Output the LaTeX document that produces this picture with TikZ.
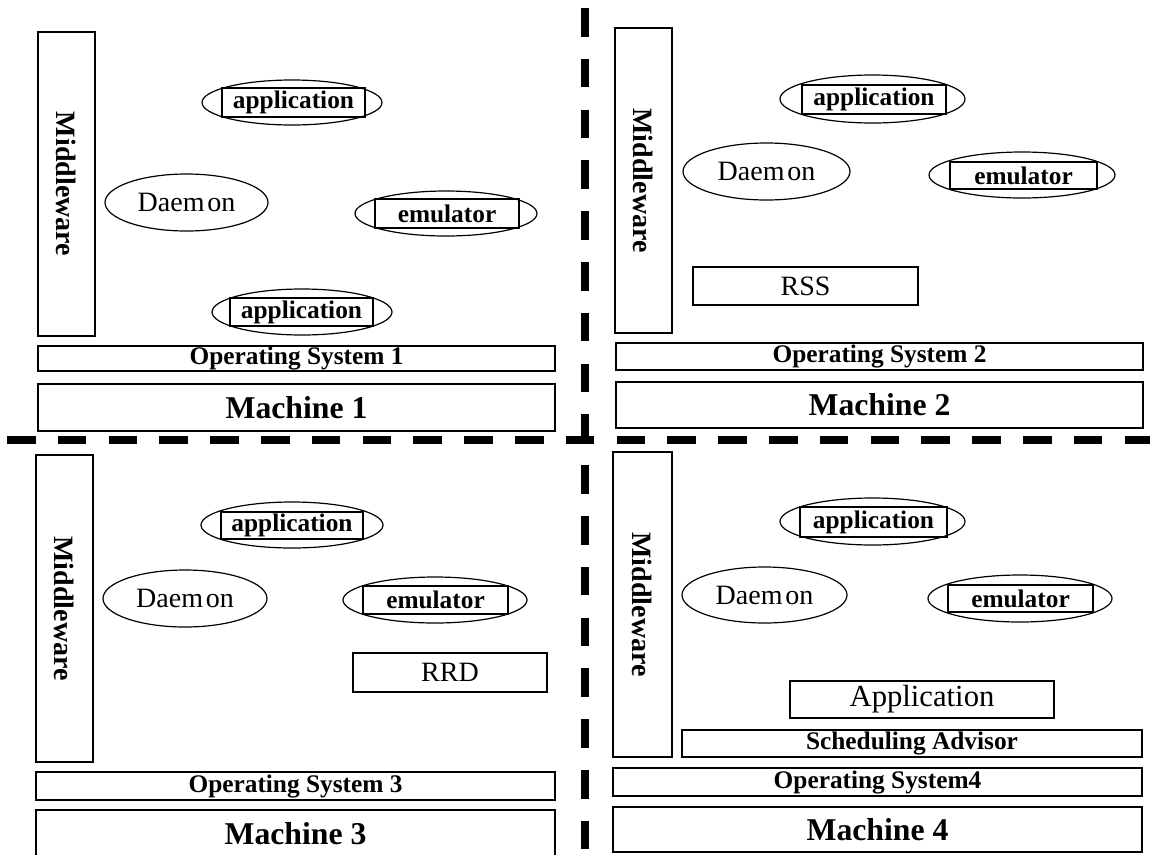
\documentclass[tikz,border=0pt]{standalone}
\usepackage{fontspec}
\setmainfont{Liberation Serif}
\usetikzlibrary{shapes.geometric}
\begin{document}
\begin{tikzpicture}[x=0.75pt,y=-0.75pt,
  frame/.style={draw,line width=0.9pt,inner sep=0pt,rectangle},
  oval/.style={draw,line width=0.9pt,inner sep=0pt,ellipse},
  sz/.style 2 args={minimum width=#1*0.75pt,minimum height=#2*0.75pt},
  machfont/.style={font=\bfseries\fontsize{23.8}{24}\selectfont},
  labfont/.style={font=\bfseries\fontsize{19}{19}\selectfont},
  regfont/.style={font=\fontsize{21}{21}\selectfont},
  bigreg/.style={font=\fontsize{23}{23}\selectfont},
  mwfont/.style={font=\bfseries\fontsize{21}{21}\selectfont,rotate=-90},
  divider/.style={line width=6pt,dash pattern=on 21.5pt off 16.6pt},
]
\useasboundingbox (0,0) rectangle (1150,854);
\fill[white] (0,0) rectangle (1150,854);

% dividers
\coordinate (hl) at (7,440);
\coordinate (hr) at (1150,440);
\coordinate (vt) at (585,8);
\coordinate (vb) at (585,854);
\draw[divider] (hl) -- (hr);
\draw[divider] (vt) -- (vb);

% ---------------- Machine 1 ----------------
\node[frame,sz={57}{304}] (mw1) at (66.5,184) {};
\node[mwfont] at (mw1.center) {Middleware};
\node[oval,sz={180}{45}] (a1) at (292,102.5) {};
\node[frame,labfont,sz={143}{29}] (a1r) at (293.5,102.5) {application};
\node[oval,regfont,sz={163}{57}] (d1) at (186.5,202.5) {Daem\kern2pt on};
\node[oval,sz={182}{45}] (e1) at (446,213.5) {};
\node[frame,labfont,sz={144}{29}] (e1r) at (447,213.5) {emulator};
\node[oval,sz={180}{46}] (a2) at (302,312) {};
\node[frame,labfont,sz={143}{28}] (a2r) at (301.5,312) {application};
\node[frame,labfont,sz={517}{25}] (os1) at (296.5,358.5) {Operating System 1};
\node[frame,machfont,sz={517}{47}] (m1) at (296.5,407.5) {Machine 1};

% ---------------- Machine 2 ----------------
\node[frame,sz={57}{305}] (mw2) at (643.5,180.5) {};
\node[mwfont] at (mw2.center) {Middleware};
\node[oval,sz={185}{48}] (a3) at (872.5,99) {};
\node[frame,labfont,sz={144}{29}] (a3r) at (874,99.5) {application};
\node[oval,regfont,sz={167}{57}] (d2) at (766.5,171.5) {Daem\kern2pt on};
\node[oval,sz={186}{46}] (e2) at (1022,175) {};
\node[frame,labfont,sz={147}{27}] (e2r) at (1023.5,175.5) {emulator};
\node[frame,regfont,sz={225}{38}] (rss) at (805.5,286) {RSS};
\node[frame,labfont,sz={527}{27}] (os2) at (879.5,356.5) {Operating System 2};
\node[frame,machfont,sz={527}{46}] (m2) at (879.5,405) {Machine 2};

% ---------------- Machine 3 ----------------
\node[frame,sz={57}{307}] (mw3) at (64.5,608.5) {};
\node[mwfont] at (mw3.center) {Middleware};
\node[oval,sz={182}{46}] (a4) at (292,525) {};
\node[frame,labfont,sz={142}{27}] (a4r) at (292,525.5) {application};
\node[oval,regfont,sz={164}{57}] (d3) at (185,598.5) {Daem\kern2pt on};
\node[oval,sz={184}{46}] (e3) at (435,600) {};
\node[frame,labfont,sz={145}{28}] (e3r) at (435.5,600) {emulator};
\node[frame,regfont,sz={194}{39}] (rrd) at (450,672.5) {RRD};
\node[frame,labfont,sz={519}{28}] (os3) at (295.5,786) {Operating System 3};
\node[frame,machfont,sz={519}{47}] (m3) at (295.5,833.5) {Machine 3};

% ---------------- Machine 4 ----------------
\node[frame,sz={59}{305}] (mw4) at (642.5,604.5) {};
\node[mwfont] at (mw4.center) {Middleware};
\node[oval,sz={185}{47}] (a5) at (872.5,521.5) {};
\node[frame,labfont,sz={147}{30}] (a5r) at (873.5,522) {application};
\node[oval,regfont,sz={165}{56}] (d4) at (764.5,595) {Daem\kern2pt on};
\node[oval,sz={184}{47}] (e4) at (1020,598.5) {};
\node[frame,labfont,sz={145}{27}] (e4r) at (1020.5,598.5) {emulator};
\node[frame,bigreg,sz={264}{37}] (appb) at (922,699.5) {Application};
\node[frame,labfont,sz={460}{27}] (sched) at (912,743.5) {Scheduling Advisor};
\node[frame,labfont,sz={529}{28}] (os4) at (877.5,782) {Operating System4};
\node[frame,machfont,sz={529}{45}] (m4) at (877.5,829.5) {Machine 4};
\end{tikzpicture}
\end{document}
